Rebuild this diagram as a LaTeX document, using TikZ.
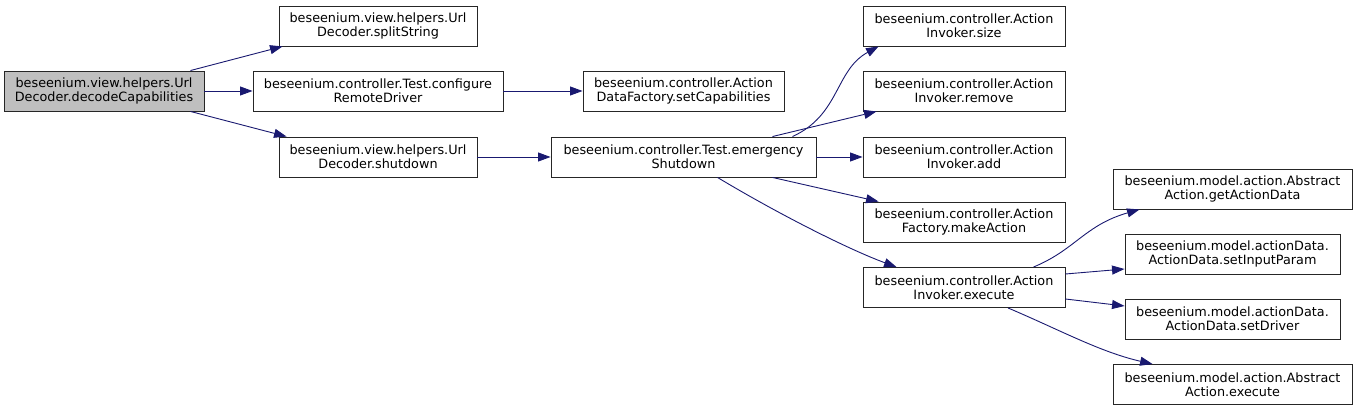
\documentclass[tikz,border=0pt]{standalone}
\usepackage{fontspec}
\setmainfont{DejaVu Sans}
\usetikzlibrary{arrows.meta}
\definecolor{edgeblue}{HTML}{191970}
\definecolor{boxgray}{HTML}{BFBFBF}
\tikzset{
  fn/.style={draw=black!85, line width=0.9pt, rectangle, inner sep=0pt, align=center,
    minimum height=40pt, font=\fontsize{12.8}{14}\selectfont},
  call/.style={draw=edgeblue, line width=0.9pt, -{Triangle[length=12.5pt,width=9pt]}},
}
\begin{document}
\begin{tikzpicture}[x=1pt,y=-1pt]
\useasboundingbox (0,0) rectangle (1357,411);
% nodes
\node[fn, fill=boxgray, minimum width=200pt] (dec) at (104,91) {beseenium.view.helpers.Url\\Decoder.decodeCapabilities};
\node[fn, minimum width=198pt] (split) at (378,26) {beseenium.view.helpers.Url\\Decoder.splitString};
\node[fn, minimum width=250pt] (conf) at (378,91) {beseenium.controller.Test.configure\\RemoteDriver};
\node[fn, minimum width=198pt] (shut) at (378,157) {beseenium.view.helpers.Url\\Decoder.shutdown};
\node[fn, minimum width=201pt] (setcap) at (683.5,91) {beseenium.controller.Action\\DataFactory.setCapabilities};
\node[fn, minimum width=265pt] (emerg) at (683.5,157) {beseenium.controller.Test.emergency\\Shutdown};
\node[fn, minimum width=202pt] (size) at (964,26) {beseenium.controller.Action\\Invoker.size};
\node[fn, minimum width=202pt] (remove) at (964,91) {beseenium.controller.Action\\Invoker.remove};
\node[fn, minimum width=202pt] (add) at (964,157) {beseenium.controller.Action\\Invoker.add};
\node[fn, minimum width=202pt] (make) at (964,222) {beseenium.controller.Action\\Factory.makeAction};
\node[fn, minimum width=202pt] (exec) at (964,287.5) {beseenium.controller.Action\\Invoker.execute};
\node[fn, minimum width=239pt] (getad) at (1232.5,189) {beseenium.model.action.Abstract\\Action.getActionData};
\node[fn, minimum width=215pt] (setin) at (1232.5,254) {beseenium.model.actionData.\\ActionData.setInputParam};
\node[fn, minimum width=215pt] (setdr) at (1232.5,319) {beseenium.model.actionData.\\ActionData.setDriver};
\node[fn, minimum width=239pt] (aaexec) at (1232.5,384.5) {beseenium.model.action.Abstract\\Action.execute};
% edges
\draw[call] ([xshift=-14pt]dec.north east) -- ([xshift=4pt]split.south west);
\draw[call] (dec.east) -- (conf.west);
\draw[call] ([xshift=-14pt]dec.south east) -- ([xshift=8pt]shut.north west);
\draw[call] (conf.east) -- (setcap.west);
\draw[call] (shut.east) -- (emerg.west);
\draw[call] ([xshift=-24pt]emerg.north east) .. controls (840,115) and (835,70) .. ([xshift=16pt]size.south west);
\draw[call] ([xshift=-44pt]emerg.north east) -- ([xshift=14pt]remove.south west);
\draw[call] (emerg.east) -- (add.west);
\draw[call] ([xshift=-44pt]emerg.south east) -- ([xshift=16pt]make.north west);
\draw[call] ([xshift=34pt]emerg.south) .. controls (780,215) and (850,250) .. ([xshift=34pt]exec.north west);
\draw[call] ([xshift=-32pt]exec.north east) .. controls (1075,250) and (1085,225) .. ([xshift=27pt]getad.south west);
\draw[call] ([yshift=13.5pt]exec.east) -- ([yshift=-15pt]setin.west);
\draw[call] ([yshift=-11.5pt]exec.east) -- ([yshift=13pt]setdr.west);
\draw[call] ([xshift=44pt]exec.south) .. controls (1060,330) and (1100,352) .. ([xshift=40pt]aaexec.north west);
\end{tikzpicture}
\end{document}
